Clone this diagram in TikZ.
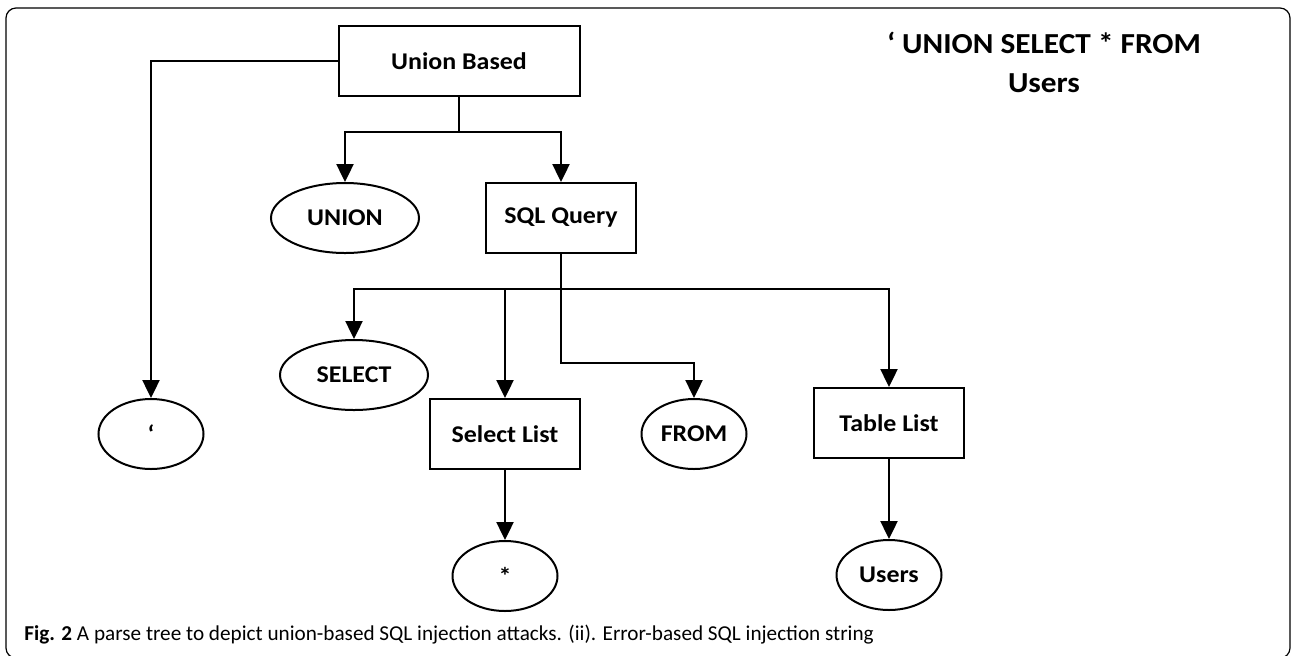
\documentclass[tikz,border=0pt]{standalone}
\usepackage{fontspec}
\setmainfont[FakeStretch=1.08]{Carlito}
\newfontfamily\capfont{Carlito}
\usetikzlibrary{arrows.meta,shapes.geometric}
\begin{document}
\begin{tikzpicture}[x=0.5pt,y=-0.5pt,
  box/.style={draw,line width=1pt,minimum width=75pt,minimum height=35pt,inner sep=0pt,font=\fontsize{12}{14}\selectfont\bfseries},
  oval/.style={draw,ellipse,line width=1pt,minimum width=52.5pt,minimum height=35pt,inner sep=0pt,font=\fontsize{12}{14}\selectfont\bfseries},
  conn/.style={line width=1.2pt,-{Triangle[length=9pt,width=8.5pt]}},
  wire/.style={line width=1.2pt}]
\useasboundingbox (0,0) rectangle (1291,655);
\draw [line width=0.6pt,rounded corners=5pt] (6,8) rectangle (1290,658);

% tree nodes
\node (ub) [box,minimum width=120.5pt] at (459,61) {Union Based};
\node (union) [oval,minimum width=74pt] at (345,218) {UNION};
\node (sqlq) [box] at (561,218) {SQL Query};
\node (quote) [oval] at (151,434) {`};
\node (select) [oval,minimum width=74pt] at (354,375) {SELECT};
\node (sellist) [box] at (505,434) {Select List};
\node (from) [oval] at (694,434) {FROM};
\node (tablist) [box] at (889,423) {Table List};
\node (star) [oval] at (505,576) {*};
\node (users) [oval] at (889,575) {Users};

\coordinate (ubsplit) at (459,132);
\coordinate (qsplit) at (561,289);
\coordinate (fromturn) at (561,363);

% connectors
\draw [conn] (ub.west) -| (quote.north);
\draw [wire] (ub.south) -- (ubsplit);
\draw [conn] (ubsplit) -| (union.north);
\draw [conn] (ubsplit) -| (sqlq.north);
\draw [wire] (sqlq.south) -- (qsplit);
\draw [conn] (qsplit) -| (select.north);
\draw [conn] (qsplit) -| (tablist.north);
\draw [conn] (sellist.north |- qsplit) -- (sellist.north);
\draw [conn] (qsplit) -- (fromturn) -| (from.north);
\draw [conn] (sellist.south) -- (star.north);
\draw [conn] (tablist.south) -- (users.north);

% query string and caption
\node (query) [align=center,font=\fontsize{14.5}{19.5}\selectfont\bfseries] at (1044,62) {` UNION SELECT * FROM\\Users};
\node (caption) [anchor=base west,inner sep=0pt,font=\capfont\fontsize{10.6}{12}\selectfont] at (24,640) {\textbf{Fig. 2} A parse tree to depict union-based SQL injection attacks. (ii). Error-based SQL injection string};
\end{tikzpicture}
\end{document}
